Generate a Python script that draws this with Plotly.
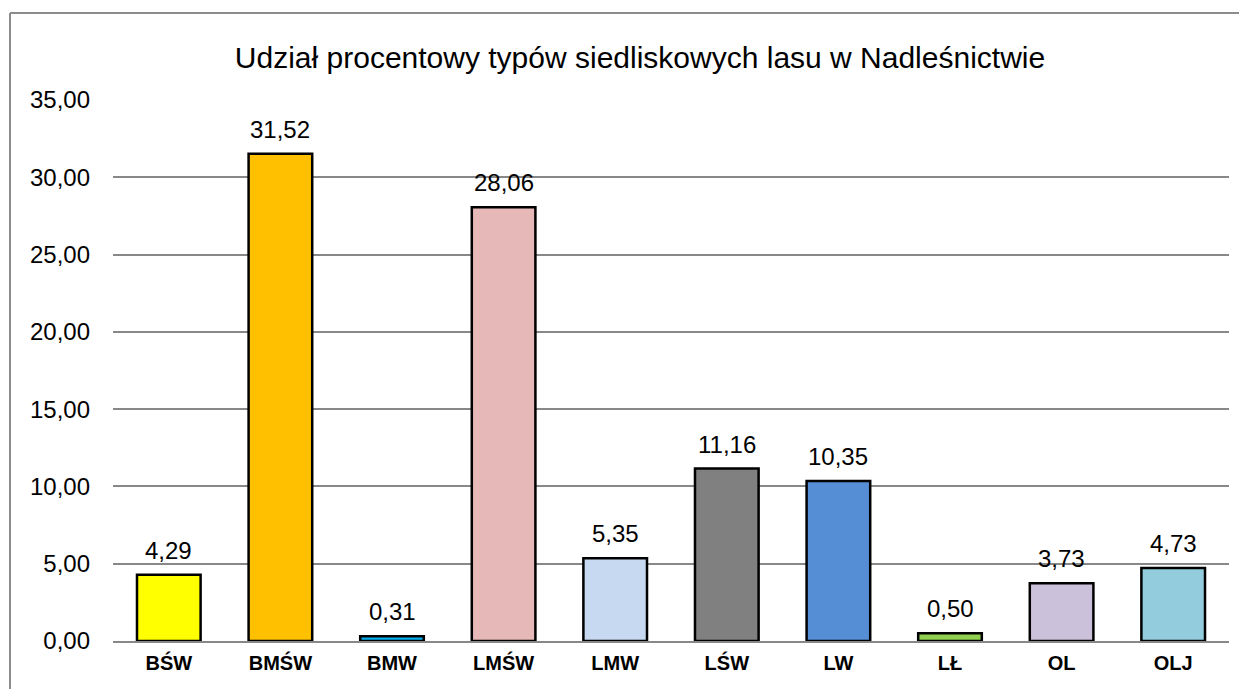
import plotly.graph_objects as go

categories = ["BŚW", "BMŚW", "BMW", "LMŚW", "LMW", "LŚW", "LW", "LŁ", "OL", "OLJ"]
values = [4.29, 31.52, 0.31, 28.06, 5.35, 11.16, 10.35, 0.50, 3.73, 4.73]
colors = ["#FFFF00", "#FFC000", "#00B0F0", "#E6B9B8", "#C6D9F1",
          "#808080", "#558ED5", "#92D050", "#CCC1DA", "#93CDDD"]
y_ticks = [0, 5, 10, 15, 20, 25, 30, 35]

# page body adds an 8px offset
W, H = 1239, 681
L, R, T, B = 105, 18, 92, 48
pw, ph = W - L - R, H - T - B

fig = go.Figure(go.Bar(
    x=categories, y=values,
    marker=dict(color=colors, line=dict(color="#000000", width=2.5)),
    width=0.57,
    cliponaxis=False,
))

for c, v in zip(categories, values):
    fig.add_annotation(x=c, y=v, text=f"{v:.2f}".replace(".", ","),
                       showarrow=False, yanchor="bottom", yshift=9,
                       font=dict(size=24, color="#000000"))

fig.update_layout(
    width=W, height=H,
    margin=dict(l=L, r=R, t=T, b=B),
    paper_bgcolor="white", plot_bgcolor="white",
    separators=", ",
    font=dict(family="Liberation Sans, Arial", color="#000000"),
    title=dict(text="Udział procentowy typów siedliskowych lasu w Nadleśnictwie",
               x=632 / W, xref="container", xanchor="center",
               y=1 - 49 / H, yref="container", yanchor="middle",
               font=dict(size=30, color="#000000")),
    showlegend=False,
    bargap=0.43,
)
fig.update_yaxes(range=[0, 35], tickvals=y_ticks, tickformat=".2f",
                 showgrid=True, gridcolor="#888888", gridwidth=1.5,
                 zeroline=False, showline=False,
                 tickfont=dict(size=24), ticks="", ticklen=0, ticklabelstandoff=22)
fig.update_xaxes(showline=True, linecolor="#888888", linewidth=2,
                 tickfont=dict(size=20, family="Liberation Sans, Arial"),
                 ticks="", ticklabelstandoff=3)
fig.update_xaxes(tickvals=categories,
                 ticktext=[f"<b>{c}</b>" for c in categories])

# outer chart frame (left and top edges visible)
x_left = (2 - L) / pw
y_top = 1 + (T - 5) / ph
fig.add_shape(type="line", xref="paper", yref="paper",
              x0=x_left, x1=x_left, y0=-0.2, y1=y_top,
              line=dict(color="#8C8C8C", width=2))
fig.add_shape(type="line", xref="paper", yref="paper",
              x0=x_left, x1=1.1, y0=y_top, y1=y_top,
              line=dict(color="#8C8C8C", width=2))

fig.write_html("out.html")
